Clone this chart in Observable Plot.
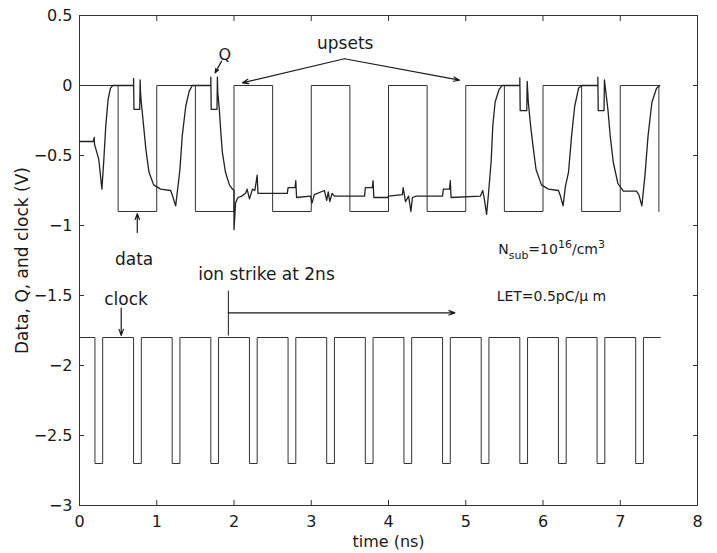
<!DOCTYPE html>
<html><head><meta charset="utf-8">
<script src="https://cdn.jsdelivr.net/npm/d3@7"></script>
<script src="https://cdn.jsdelivr.net/npm/@observablehq/plot@0.6"></script>
<style>body{margin:0;background:#fff}</style>
</head><body><div id="chart"></div>
<script>
const xTicks = [0, 1, 2, 3, 4, 5, 6, 7, 8];
const yTicks = [0.5, 0, -0.5, -1, -1.5, -2, -2.5, -3];

// data signal (time ns, volts)
const dataPoints = [
  [0,0],[0.5,0],[0.5,-0.9],[1.0,-0.9],[1.0,0],[1.5,0],[1.5,-0.9],[2.0,-0.9],[2.0,0],
  [2.5,0],[2.5,-0.9],[3.0,-0.9],[3.0,0],[3.5,0],[3.5,-0.9],[4.0,-0.9],[4.0,0],
  [4.5,0],[4.5,-0.9],[5.0,-0.9],[5.0,0],[5.5,0],[5.5,-0.9],[6.0,-0.9],[6.0,0],
  [6.5,0],[6.5,-0.9],[7.0,-0.9],[7.0,0],[7.5,0],[7.5,-0.9]
];

// clock signal
const clockPoints = [
  [0,-1.8],
  [0.2,-1.8],[0.2,-2.7],[0.3,-2.7],[0.3,-1.8],
  [0.7,-1.8],[0.7,-2.7],[0.8,-2.7],[0.8,-1.8],
  [1.2,-1.8],[1.2,-2.7],[1.3,-2.7],[1.3,-1.8],
  [1.7,-1.8],[1.7,-2.7],[1.8,-2.7],[1.8,-1.8],
  [2.2,-1.8],[2.2,-2.7],[2.3,-2.7],[2.3,-1.8],
  [2.7,-1.8],[2.7,-2.7],[2.8,-2.7],[2.8,-1.8],
  [3.2,-1.8],[3.2,-2.7],[3.3,-2.7],[3.3,-1.8],
  [3.7,-1.8],[3.7,-2.7],[3.8,-2.7],[3.8,-1.8],
  [4.2,-1.8],[4.2,-2.7],[4.3,-2.7],[4.3,-1.8],
  [4.7,-1.8],[4.7,-2.7],[4.8,-2.7],[4.8,-1.8],
  [5.2,-1.8],[5.2,-2.7],[5.3,-2.7],[5.3,-1.8],
  [5.7,-1.8],[5.7,-2.7],[5.8,-2.7],[5.8,-1.8],
  [6.2,-1.8],[6.2,-2.7],[6.3,-2.7],[6.3,-1.8],
  [6.7,-1.8],[6.7,-2.7],[6.8,-2.7],[6.8,-1.8],
  [7.2,-1.8],[7.2,-2.7],[7.3,-2.7],[7.3,-1.8],
  [7.52,-1.8]
];

// Q output
const qPoints = [
  [0,-0.40],[0.18,-0.40],[0.19,-0.37],[0.195,-0.42],[0.25,-0.53],[0.29,-0.74],[0.315,-0.53],
  [0.34,-0.29],[0.37,-0.10],[0.40,-0.02],[0.43,0],
  [0.70,0],[0.70,0.05],[0.705,-0.17],[0.78,-0.17],[0.785,0.04],[0.79,-0.05],[0.80,-0.12],
  [0.83,-0.29],[0.86,-0.46],[0.90,-0.62],[0.96,-0.71],[1.05,-0.74],[1.18,-0.75],[1.20,-0.78],
  [1.245,-0.86],[1.275,-0.72],[1.30,-0.60],[1.33,-0.36],[1.375,-0.15],[1.42,-0.04],[1.46,0],
  [1.70,0],[1.70,0.06],[1.705,-0.17],[1.78,-0.17],[1.785,0.06],[1.79,-0.05],[1.81,-0.17],
  [1.83,-0.34],[1.85,-0.48],[1.89,-0.62],[1.94,-0.71],[1.98,-0.74],[2.0,-0.75],[2.0,-1.03],
  [2.02,-0.84],[2.05,-0.80],[2.10,-0.79],[2.15,-0.77],[2.17,-0.74],[2.20,-0.81],[2.24,-0.74],
  [2.27,-0.75],[2.30,-0.64],[2.31,-0.77],[2.69,-0.77],[2.70,-0.73],[2.79,-0.73],[2.80,-0.68],
  [2.81,-0.80],[2.99,-0.79],[3.01,-0.84],[3.04,-0.78],[3.17,-0.75],[3.20,-0.82],[3.22,-0.76],
  [3.24,-0.83],[3.27,-0.77],[3.30,-0.79],[3.69,-0.79],[3.70,-0.73],[3.79,-0.73],[3.80,-0.68],
  [3.81,-0.80],[3.99,-0.80],[4.0,-0.79],[4.18,-0.78],[4.19,-0.73],[4.22,-0.83],[4.26,-0.79],
  [4.29,-0.90],[4.31,-0.80],[4.36,-0.79],[4.70,-0.79],[4.71,-0.74],[4.79,-0.74],[4.80,-0.68],
  [4.81,-0.80],[5.19,-0.79],[5.22,-0.75],[5.24,-0.81],[5.27,-0.92],[5.29,-0.80],[5.31,-0.67],
  [5.33,-0.53],[5.35,-0.29],[5.38,-0.12],[5.43,-0.03],[5.47,0],
  [5.70,0],[5.70,0.055],[5.705,-0.18],[5.79,-0.18],[5.795,0.03],[5.81,-0.12],[5.84,-0.29],
  [5.87,-0.43],[5.91,-0.60],[5.98,-0.71],[6.07,-0.74],[6.20,-0.75],[6.22,-0.78],[6.26,-0.86],
  [6.29,-0.72],[6.33,-0.62],[6.37,-0.36],[6.41,-0.15],[6.46,-0.02],[6.50,0],
  [6.71,0],[6.71,0.06],[6.715,-0.18],[6.79,-0.18],[6.795,0.04],[6.84,-0.17],[6.87,-0.36],
  [6.91,-0.55],[6.97,-0.70],[7.04,-0.755],[7.21,-0.755],[7.24,-0.78],[7.28,-0.86],[7.32,-0.64],
  [7.36,-0.36],[7.41,-0.12],[7.47,-0.02],[7.51,0]
];

// annotation labels (centered)
const labelText = ["upsets", "Q", "data", "clock", "ion strike at 2ns"];
const labelT    = [3.44, 1.88, 0.707, 0.603, 2.42];
const labelV    = [0.30, 0.221, -1.24, -1.526, -1.347];
const labelSize = [17, 16, 17, 17, 17];

// parameter notes (left aligned)
const noteText = ["N_sub=10^16/cm^3", "LET=0.5pC/\u03bc m"];
const noteT = [5.42, 5.40];
const noteV = [-1.175, -1.504];

// arrows: [t1, v1, t2, v2]
const arrowList = [
  [3.43, 0.191, 2.11, 0.019],
  [3.43, 0.191, 4.92, 0.038],
  [1.84, 0.174, 1.755, 0.09],
  [0.748, -1.05, 0.748, -0.915],
  [0.54, -1.59, 0.54, -1.785],
  [1.927, -1.624, 4.86, -1.624]
];
// ion strike marker: [t, v1, v2]
const strikeRule = [[1.927, -1.469, -1.79]];

const toObj = arr => arr.map(([t, v]) => ({t, v}));
const fmt = d => d < 0 ? "\u2212" + Math.abs(d) : String(d);
const blank = () => "";
const ink = "#1a1a1a";

const chart = Plot.plot({
  width: 717, height: 553,
  marginLeft: 79, marginRight: 20, marginTop: 15, marginBottom: 48,
  style: {fontFamily: "DejaVu Sans", fontSize: "16px", color: ink, background: "#fff"},
  x: {domain: [0, 8]},
  y: {domain: [-3, 0.5]},
  marks: [
    Plot.frame({stroke: "#333"}),
    // inward tick marks on all four sides
    Plot.axisX(xTicks.slice(1, -1), {anchor: "bottom", tickSize: 5, dy: -5, tickFormat: blank, label: null, stroke: "#333"}),
    Plot.axisX(xTicks.slice(1, -1), {anchor: "top", tickSize: 5, dy: 5, tickFormat: blank, label: null, stroke: "#333"}),
    Plot.axisY(yTicks.slice(1, -1), {anchor: "left", tickSize: 5, dx: 5, tickFormat: blank, label: null, stroke: "#333"}),
    Plot.axisY(yTicks.slice(1, -1), {anchor: "right", tickSize: 5, dx: -5, tickFormat: blank, label: null, stroke: "#333"}),
    // tick labels
    Plot.axisX(xTicks, {anchor: "bottom", tickSize: 0, tickPadding: 10, label: null, fontSize: 16}),
    Plot.axisY(yTicks, {anchor: "left", tickSize: 0, tickPadding: 7, tickFormat: fmt, label: null, fontSize: 16}),
    Plot.line(toObj(dataPoints), {x: "t", y: "v", stroke: "#333", strokeWidth: 1}),
    Plot.line(toObj(clockPoints), {x: "t", y: "v", stroke: "#333", strokeWidth: 1}),
    Plot.line(toObj(qPoints), {x: "t", y: "v", stroke: "#222", strokeWidth: 1.3}),
    Plot.ruleX(strikeRule, {x: d => d[0], y1: d => d[1], y2: d => d[2], stroke: ink, strokeWidth: 1}),
    Plot.arrow(arrowList, {x1: d => d[0], y1: d => d[1], x2: d => d[2], y2: d => d[3],
      stroke: ink, strokeWidth: 1.2, headLength: 8, headAngle: 40}),
    Plot.text(labelText, {x: (d, i) => labelT[i], y: (d, i) => labelV[i], text: d => d,
      fontSize: (d, i) => labelSize[i], textAnchor: "middle", lineAnchor: "middle", fill: ink}),
    Plot.text(noteText, {x: (d, i) => noteT[i], y: (d, i) => noteV[i], text: d => d,
      fontSize: 14, textAnchor: "start", lineAnchor: "middle", fill: ink}),
    Plot.text(["Data, Q, and clock (V)"], {frameAnchor: "left", dx: -57, rotate: -90, text: d => d,
      fontSize: 17, textAnchor: "middle", lineAnchor: "middle", fill: ink}),
    Plot.text(["time (ns)"], {frameAnchor: "bottom", dy: 36, text: d => d,
      fontSize: 16, textAnchor: "middle", lineAnchor: "middle", fill: ink})
  ]
});

chart.querySelectorAll("text").forEach(el => {
  if (el.textContent === "N_sub=10^16/cm^3") {
    el.innerHTML = 'N<tspan dy="5" font-size="11">sub</tspan><tspan dy="-5">=10</tspan>' +
      '<tspan dy="-6" font-size="11">16</tspan><tspan dy="6">/cm</tspan><tspan dy="-6" font-size="11">3</tspan>';
  }
});

document.getElementById("chart").appendChild(chart);
</script>
</body></html>
